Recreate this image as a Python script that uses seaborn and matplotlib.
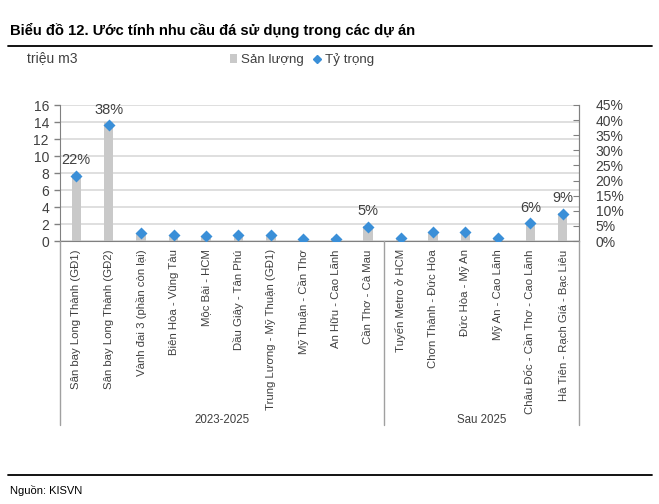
import matplotlib
matplotlib.use("Agg")
import matplotlib.pyplot as plt
import matplotlib.transforms as mtransforms
from matplotlib.lines import Line2D
from matplotlib.patches import Patch
import seaborn as sns
import pandas as pd

categories = [
    "Sân bay Long Thành (GĐ1)", "Sân bay Long Thành (GĐ2)", "Vành đai 3 (phần còn lại)",
    "Biên Hòa - Vũng Tàu", "Mộc Bài - HCM", "Dầu Giây - Tân Phú",
    "Trung Lương - Mỹ Thuận (GĐ1)", "Mỹ Thuận - Cần Thơ", "An Hữu - Cao Lãnh",
    "Cần Thơ - Cà Mau", "Tuyến Metro ở HCM", "Chơn Thành - Đức Hòa",
    "Đức Hòa - Mỹ An", "Mỹ An - Cao Lãnh", "Châu Đốc - Cần Thơ - Cao Lãnh",
    "Hà Tiên - Rạch Giá - Bạc Liêu",
]
san_luong = [7.9, 14.0, 1.0, 0.75, 0.6, 0.75, 0.7, 0.3, 0.3, 1.8, 0.3, 1.1, 1.05, 0.3, 2.2, 3.3]
ty_trong = [0.216, 0.383, 0.027, 0.020, 0.017, 0.020, 0.019, 0.008, 0.008, 0.047, 0.009, 0.030, 0.029, 0.009, 0.060, 0.090]
labeled = ["22%", "38%", "", "", "", "", "", "", "", "5%", "", "", "", "", "6%", "9%"]
groups = ["2023-2025", "Sau 2025"]
group_sizes = [10, 6]

df = pd.DataFrame({"cat": categories, "val": san_luong, "share": ty_trong})

sns.set_style("white")
plt.rcParams["font.family"] = ["Liberation Sans", "DejaVu Sans"]
txt = "#404040"
bar_color = "#c9c9c9"
dot_color = "#3a8fd8"

W, H = 659, 504
fig = plt.figure(figsize=(W / 100, H / 100), dpi=100)
ax = fig.add_axes([60 / W, 1 - 241 / H, 519 / W, 136 / H])

sns.barplot(data=df, x="cat", y="val", order=categories, color=bar_color,
            width=0.29, saturation=1, ax=ax, zorder=2, linewidth=0)
ax.set_ylim(0, 16)
ax.set_yticks(range(0, 17, 2))
ax.grid(axis="y", color="#d9d9d9", linewidth=1.2, zorder=0)
ax.set_axisbelow(True)
ax.set_xlabel("")
ax.set_ylabel("")
ax.tick_params(axis="y", labelsize=10, colors=txt, length=4, width=1, color="#808080",
               direction="out", pad=4, left=True)
ax.tick_params(axis="x", labelsize=8.2, colors=txt, length=0, pad=6)
ax.set_xticks(range(len(categories)))
ax.set_xticklabels(categories, rotation=90, va="top", ha="center")
ax.spines["top"].set_visible(False)
for s in ["left", "bottom", "right"]:
    ax.spines[s].set_color("#808080")
ax.set_xlim(-0.5, len(categories) - 0.5)

ax2 = ax.twinx()
sns.pointplot(data=df, x="cat", y="share", order=categories, linestyle="none",
              markers="D", color=dot_color, markersize=4.3, ax=ax2, zorder=3)
ax2.set_ylim(0, 0.45)
ax2.set_yticks([i * 0.05 for i in range(10)])
ax2.set_yticklabels([f"{i*5}%" for i in range(10)])
ax2.tick_params(axis="y", labelsize=10, colors=txt, direction="in", length=4, pad=12,
                color="#808080")
ax2.set_ylabel("")
ax2.set_xlabel("")
ax2.spines["top"].set_visible(False)
ax2.spines["right"].set_color("#808080")
ax2.spines["left"].set_visible(False)
ax2.spines["bottom"].set_visible(False)
ax2.set_xlim(-0.5, len(categories) - 0.5)

for i, (s, lab) in enumerate(zip(ty_trong, labeled)):
    if lab:
        ax2.annotate(lab, (i, s), xytext=(0, 6), textcoords="offset points",
                     ha="center", va="bottom", fontsize=10.5, color=txt)

# group separators and labels
trans = mtransforms.blended_transform_factory(ax.transData, fig.transFigure)
y_bot = 1 - 425 / H
y_top = 1 - 241 / H
edges = [-0.5]
for g in group_sizes:
    edges.append(edges[-1] + g)
for e in edges:
    fig.add_artist(Line2D([e, e], [y_bot, y_top], transform=trans, color="#a0a0a0", lw=1))
for gi, g in enumerate(groups):
    mid = (edges[gi] + edges[gi + 1]) / 2
    fig.text(mid, 1 - 420 / H, g, transform=trans, ha="center", va="center",
             fontsize=8.3, color=txt)

# title and rules
fig.text(10 / W, 1 - 30 / H, "Biểu đồ 12. Ước tính nhu cầu đá sử dụng trong các dự án",
         fontsize=10.6, fontweight="bold", color="black", ha="left", va="center")
fig.add_artist(Line2D([8 / W, 652 / W], [1 - 46 / H, 1 - 46 / H], color="black", lw=1.3))
fig.add_artist(Line2D([8 / W, 652 / W], [1 - 475 / H, 1 - 475 / H], color="black", lw=1.3))
fig.text(10 / W, 1 - 491 / H, "Nguồn: KISVN", fontsize=8, color="black", ha="left",
         va="center")

fig.text(27 / W, 1 - 58 / H, "triệu m3", fontsize=10, color=txt, ha="left", va="center")

handles = [Patch(facecolor=bar_color, edgecolor="none"),
           Line2D([], [], marker="D", color=dot_color, linestyle="none", markersize=4.3)]
fig.legend(handles, ["Sản lượng", "Tỷ trọng"], loc="center", bbox_to_anchor=(302 / W, 1 - 60 / H),
           ncol=2, frameon=False, fontsize=9.6, handlelength=0.55, handletextpad=0.3,
           columnspacing=0.7, labelcolor=txt)

fig.savefig("out.png", dpi=100)
